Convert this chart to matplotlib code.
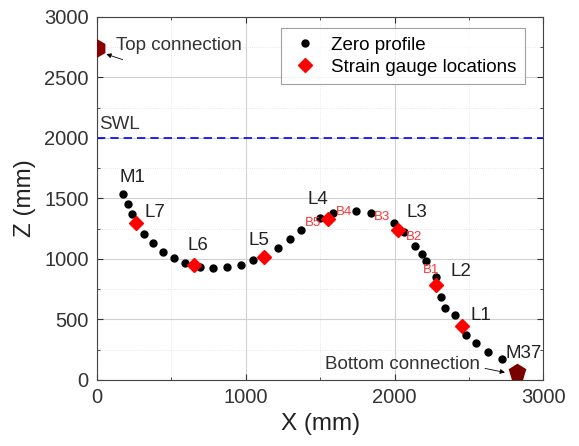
import matplotlib
matplotlib.use("Agg")
import matplotlib.pyplot as plt
from matplotlib.ticker import MultipleLocator

plt.rcParams['font.family'] = ['Liberation Sans', 'DejaVu Sans']

# Zero profile points (mm)
prof_x = [173, 208, 233, 262, 318, 377, 446, 518, 592, 655, 693, 778, 874, 971, 1051,
          1123, 1217, 1298, 1370, 1500, 1589, 1742, 1843, 1993, 2065, 2139, 2181, 2212,
          2278, 2313, 2340, 2407, 2481, 2549, 2625, 2721]
prof_z = [1535, 1455, 1375, 1300, 1204, 1132, 1061, 1011, 969, 948, 937, 926, 931, 953, 992,
          1014, 1091, 1165, 1240, 1341, 1377, 1394, 1380, 1300, 1226, 1107, 1041, 983,
          854, 683, 598, 537, 372, 308, 228, 171]

# Strain gauge locations
sg_names = ["L7", "L6", "L5", "L4", "L3", "L2", "L1"]
sg_x = [262, 655, 1123, 1551, 2022, 2275, 2452]
sg_z = [1300, 948, 1014, 1330, 1240, 785, 449]

# Label positions
lab_text = ["M1", "L7", "L6", "L5", "L4", "L3", "L2", "L1", "M37"]
lab_x = [235, 390, 680, 1090, 1486, 2152, 2445, 2582, 2870]
lab_z = [1670, 1380, 1115, 1150, 1490, 1380, 895, 537, 223]

b_text = ["B5", "B4", "B3", "B2", "B1"]
b_x = [1453, 1661, 1916, 2132, 2246]
b_z = [1297, 1388, 1347, 1182, 909]

top_conn = (0, 2745)
bot_conn = (2825, 66)
swl = 2000

fig = plt.figure(figsize=(5.79, 4.46), dpi=100)
ax = fig.add_axes([0.1675, 0.148, 0.771, 0.814])

ax.plot(prof_x, prof_z, 'o', color='black', markersize=5, linestyle='none', label='Zero profile', zorder=3)
ax.plot(sg_x, sg_z, 'D', color='red', markersize=7, linestyle='none', label='Strain gauge locations', zorder=4)
ax.axhline(swl, color='blue', linestyle='--', linewidth=1.2, dashes=(5, 3), zorder=2)
ax.text(13, swl + 45, "SWL", fontsize=13.5, color='#333333', ha='left', va='bottom')

ax.plot([top_conn[0]], [top_conn[1]], marker='h', color='#8B0000', markersize=12, clip_on=True, zorder=5)
ax.plot([bot_conn[0]], [bot_conn[1]], marker='p', color='#7a0000', markersize=12, clip_on=False, zorder=5)

ax.annotate("", xy=(45, 2700), xytext=(190, 2640),
            arrowprops=dict(arrowstyle='-|>', color='black', lw=0.6, mutation_scale=7))
ax.text(125, 2765, "Top connection", fontsize=13.5, color='#333333', ha='left', va='center')
ax.annotate("", xy=(2760, 58), xytext=(2590, 100),
            arrowprops=dict(arrowstyle='-|>', color='black', lw=0.6, mutation_scale=7))
ax.text(2575, 124, "Bottom connection", fontsize=13.5, color='#333333', ha='right', va='center')

for t, x, z in zip(lab_text, lab_x, lab_z):
    ax.text(x, z, t, fontsize=13.5, color='#222222', ha='center', va='center')
for t, x, z in zip(b_text, b_x, b_z):
    ax.text(x, z, t, fontsize=9.5, color='#ff3333', ha='center', va='center')

ax.set_xlim(0, 3000)
ax.set_ylim(0, 3000)
ax.xaxis.set_major_locator(MultipleLocator(1000))
ax.xaxis.set_minor_locator(MultipleLocator(500))
ax.yaxis.set_major_locator(MultipleLocator(500))
ax.yaxis.set_minor_locator(MultipleLocator(250))
ax.grid(True, which='major', color='#d0d0d0', linewidth=0.8)
ax.grid(True, which='minor', color='#e0e0e0', linewidth=0.6, linestyle=':')
ax.set_axisbelow(True)
ax.tick_params(which='both', direction='in', top=True, right=True, labelsize=14.5, colors='#333333')
ax.tick_params(which='major', length=4, pad=6)
ax.tick_params(which='minor', length=2)
for s in ax.spines.values():
    s.set_color('#444444')
ax.set_xlabel("X (mm)", fontsize=17.5, color='#222222', labelpad=4)
ax.set_ylabel("Z (mm)", fontsize=17.5, color='#222222', labelpad=6)

leg = ax.legend(loc='upper right', bbox_to_anchor=(0.958, 0.969), borderaxespad=0,
                fontsize=13.5, frameon=True,
                fancybox=False, edgecolor='#888888', handletextpad=0.6, borderpad=0.45,
                labelspacing=0.25, handlelength=1.6)
leg.get_frame().set_linewidth(0.8)

fig.savefig("out.png", dpi=100)
